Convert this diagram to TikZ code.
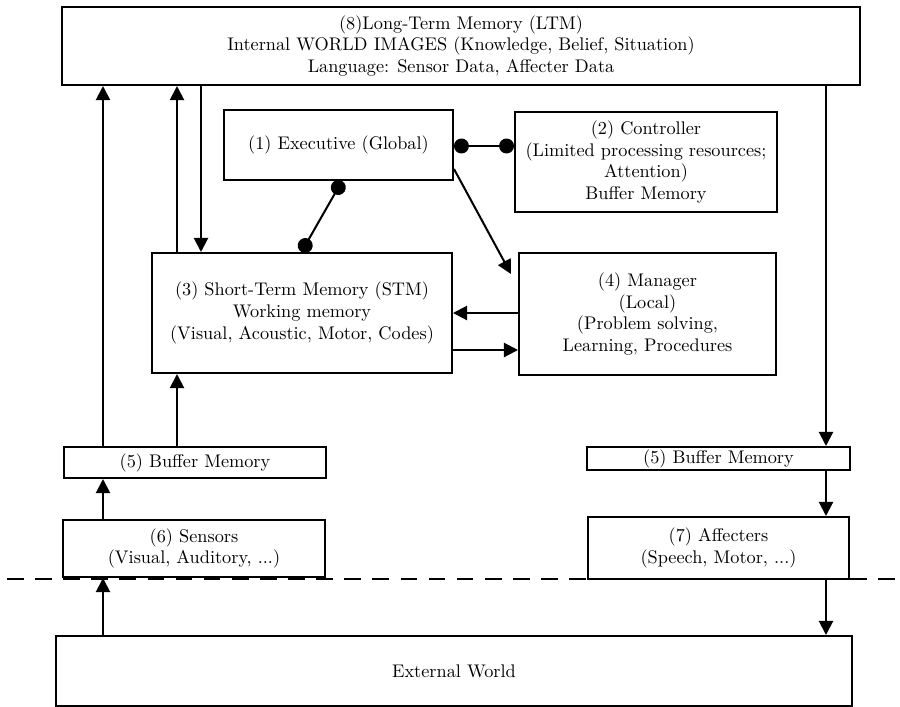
\documentclass[tikz,border=0pt]{standalone}
\usetikzlibrary{arrows.meta}

\tikzstyle{block}=[draw, line width=1.15pt, align=center, inner sep=0pt,
                   font=\fontsize{10.4}{12.3}\selectfont]
\tikzstyle{flow}=[line width=1.15pt, -{Triangle[length=8pt, width=8pt]}]
\tikzstyle{link}=[line width=1.15pt, {Circle[length=8.5pt]}-{Circle[length=8.5pt]}]

\begin{document}
\begin{tikzpicture}[x=0.02cm, y=-0.02cm]
  \useasboundingbox (0, 0) rectangle (900, 707);

  \draw[line width=1.15pt, dash pattern=on 9.5pt off 6.5pt] (7, 579) coordinate (dl) -- (898, 579) coordinate (dr);

  \node[block, minimum width=15.96cm, minimum height=1.56cm] (ltm) at (461, 46)
    {(8)Long-Term Memory (LTM)\\Internal WORLD IMAGES (Knowledge, Belief, Situation)\\Language: Sensor Data, Affecter Data};
  \node[block, minimum width=4.58cm, minimum height=1.40cm] (exec) at (338.5, 145)
    {(1) Executive (Global)};
  \node[block, minimum width=5.24cm, minimum height=2.00cm] (ctrl) at (646, 162)
    {(2) Controller\\(Limited processing resources;\\Attention)\\Buffer Memory};
  \node[block, minimum width=6.00cm, minimum height=2.40cm] (stm) at (302, 313)
    {(3) Short-Term Memory (STM)\\Working memory\\(Visual, Acoustic, Motor, Codes)};
  \node[block, minimum width=5.14cm, minimum height=2.44cm] (mgr) at (647.5, 314)
    {(4) Manager\\(Local)\\(Problem solving,\\Learning, Procedures};
  \node[block, minimum width=5.24cm, minimum height=0.62cm] (bufl) at (195, 462.5)
    {(5) Buffer Memory};
  \node[block, minimum width=5.26cm, minimum height=0.46cm] (bufr) at (718.5, 458.5)
    {(5) Buffer Memory};
  \node[block, minimum width=5.24cm, minimum height=1.14cm] (sens) at (194, 548.5)
    {(6) Sensors\\(Visual, Auditory, ...)};
  \node[block, minimum width=5.22cm, minimum height=1.24cm] (aff) at (718.5, 548)
    {(7) Affecters\\(Speech, Motor, ...)};
  \node[block, minimum width=15.92cm, minimum height=1.40cm] (ext) at (454, 671)
    {External World};

  % columns and rows of the connectors
  \coordinate (xa) at (103, 0);
  \coordinate (xb) at (177, 0);
  \coordinate (xc) at (201, 0);
  \coordinate (xd) at (826, 0);
  \coordinate (ya) at (0, 313);
  \coordinate (yb) at (0, 350);
  \coordinate (yc) at (0, 146);

  \draw[flow] (bufl.north -| xa) -- (ltm.south -| xa);
  \draw[flow] (stm.north -| xb) -- (ltm.south -| xb);
  \draw[flow] (ltm.south -| xc) -- (stm.north -| xc);
  \draw[flow] (bufl.north -| xb) -- (stm.south -| xb);
  \draw[flow] (sens.north -| xa) -- (bufl.south -| xa);
  \draw[flow] (ext.north -| xa) -- (sens.south -| xa);

  \draw[flow] (ltm.south -| xd) -- (bufr.north -| xd);
  \draw[flow] (bufr.south -| xd) -- (aff.north -| xd);
  \draw[flow] (aff.south -| xd) -- (ext.north -| xd);

  \draw[flow] (mgr.west |- ya) -- (stm.east |- ya);
  \draw[flow] (stm.east |- yb) -- (mgr.west |- yb);
  \draw[flow] ([shift={(0, -12)}]exec.south east) -- ([shift={(-7, 22)}]mgr.north west);

  \draw[link] ([shift={(3.5, 0)}]exec.south) -- ([shift={(-0.5, 0)}]stm.north);
  \draw[link] (exec.east |- yc) -- (ctrl.west |- yc);
\end{tikzpicture}
\end{document}
